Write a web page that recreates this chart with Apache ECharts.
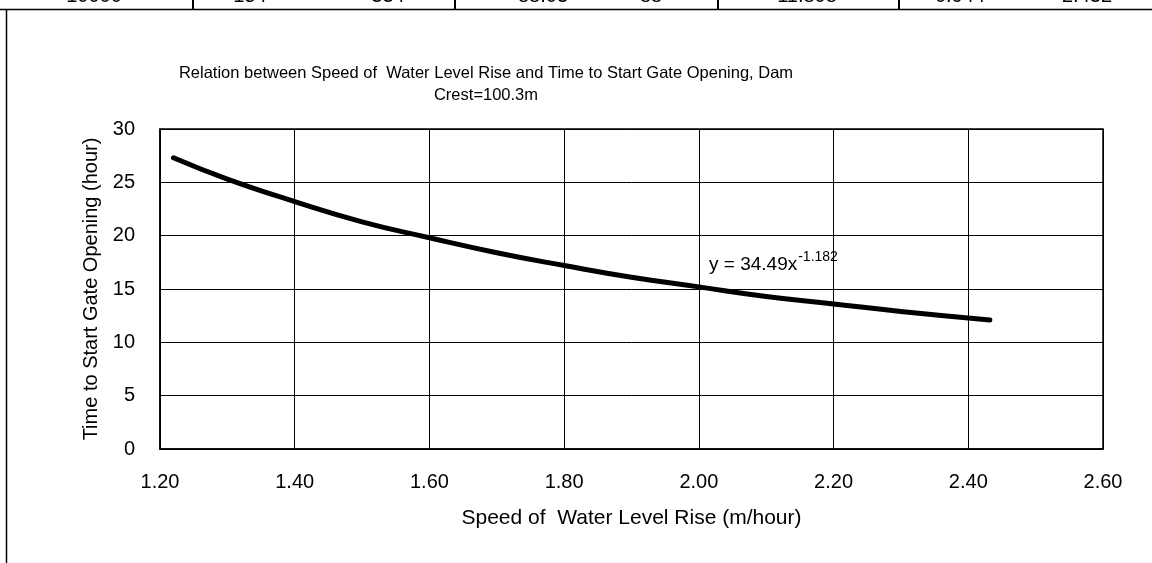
<!DOCTYPE html>
<html>
<head>
<meta charset="utf-8">
<title>Speed of Water Level Rise vs Time to Start Gate Opening</title>
<script src="https://cdn.jsdelivr.net/npm/echarts@6/dist/echarts.min.js"></script>
<style>
  html, body { margin: 0; padding: 0; background: #fff; }
  #chart { width: 1152px; height: 563px; }
</style>
</head>
<body>
<div id="chart"></div>
<script>
// Speed of water level rise (m/hour) and time to start gate opening (hour)
const riseSpeed = [1.22, 1.30, 1.40, 1.50, 1.60, 1.70, 1.80, 1.90, 2.00, 2.10, 2.20, 2.30, 2.432];
const openTime  = [27.3, 25.3, 23.2, 21.3, 19.8, 18.4, 17.2, 16.1, 15.2, 14.3, 13.6, 12.9, 12.1];

// Last row of the table above the chart (only its lower part is visible)
const tableRow = ['10000', '154', '334', '88.03', '88', '11.808', '0.944', '2.432'];
const tableRowX = [94, 250, 388, 543, 651, 807, 960, 1087];
const tableDividers = [193, 455, 718, 899];

const chartTitle = 'Relation between Speed of  Water Level Rise and Time to Start Gate Opening, Dam\nCrest=100.3m';
const xName = 'Speed of  Water Level Rise (m/hour)';
const yName = 'Time to Start Gate Opening (hour)';
const trendLabel = { base: 'y = 34.49x', exp: '-1.182' };

const FONT = 'Liberation Sans, Arial, sans-serif';

const chart = echarts.init(document.getElementById('chart'), null, { renderer: 'canvas' });

const graphics = [];
// table fragment text
tableRow.forEach((t, i) => {
  graphics.push({
    type: 'text', x: tableRowX[i], y: -4,
    style: { text: t, fontFamily: FONT, fontSize: 20, fill: '#000', align: 'center', verticalAlign: 'middle' },
    silent: true
  });
});
// table cell dividers
tableDividers.forEach(x => {
  graphics.push({ type: 'line', shape: { x1: x, y1: 0, x2: x, y2: 9 }, style: { stroke: '#000', lineWidth: 2 }, silent: true });
});
// outer chart frame (top and left edges)
graphics.push({ type: 'line', shape: { x1: 0, y1: 9.5, x2: 1152, y2: 9.5 }, style: { stroke: '#000', lineWidth: 1.5 }, silent: true });
graphics.push({ type: 'line', shape: { x1: 6.5, y1: 9.5, x2: 6.5, y2: 563 }, style: { stroke: '#000', lineWidth: 1.5 }, silent: true });
// trendline equation
graphics.push({
  type: 'text', x: 709, y: 262,
  style: {
    text: '{b|' + trendLabel.base + '}{s|' + trendLabel.exp + '}',
    rich: {
      b: { fontFamily: FONT, fontSize: 19, fill: '#000', verticalAlign: 'bottom', lineHeight: 24 },
      s: { fontFamily: FONT, fontSize: 14, fill: '#000', verticalAlign: 'top', lineHeight: 24, padding: [0, 0, 11, 1] }
    },
    verticalAlign: 'middle'
  },
  silent: true
});

chart.setOption({
  animation: false,
  backgroundColor: '#fff',
  title: {
    text: chartTitle,
    left: 481, top: 57, textAlign: 'center',
    textStyle: { fontFamily: FONT, fontSize: 16.5, fontWeight: 'normal', color: '#000', lineHeight: 22 }
  },
  grid: {
    left: 160, right: 49, top: 129, bottom: 114,
    show: true, borderColor: '#000', borderWidth: 1.5, backgroundColor: 'transparent'
  },
  xAxis: {
    type: 'value', min: 1.2, max: 2.6, interval: 0.2,
    name: xName, nameLocation: 'middle', nameGap: 59,
    nameTextStyle: { fontFamily: FONT, fontSize: 21, color: '#000' },
    axisLine: { show: true, lineStyle: { color: '#000', width: 1.5 } },
    axisTick: { show: false },
    axisLabel: { fontFamily: FONT, fontSize: 20, color: '#000', margin: 23, formatter: v => v.toFixed(2) },
    splitLine: { show: true, lineStyle: { color: '#000', width: 1 } }
  },
  yAxis: {
    type: 'value', min: 0, max: 30, interval: 5,
    name: yName, nameLocation: 'middle', nameGap: 56, nameRotate: 90,
    nameTextStyle: { fontFamily: FONT, fontSize: 20, color: '#000' },
    axisLine: { show: true, lineStyle: { color: '#000', width: 1.5 } },
    axisTick: { show: false },
    axisLabel: { fontFamily: FONT, fontSize: 20, color: '#000', margin: 25 },
    splitLine: { show: true, lineStyle: { color: '#000', width: 1 } }
  },
  series: [{
    type: 'line',
    data: riseSpeed.map((x, i) => [x, openTime[i]]),
    smooth: true,
    symbol: 'none',
    lineStyle: { color: '#000', width: 5, cap: 'round' }
  }],
  graphic: graphics
});
</script>
</body>
</html>
